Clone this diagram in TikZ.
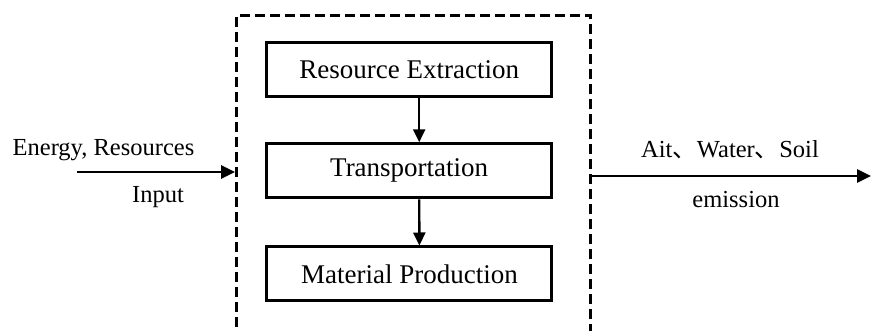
\documentclass[tikz,border=0pt]{standalone}
\usepackage{fontspec}
\setmainfont{Liberation Serif}
\newfontfamily\cjk{Noto Sans CJK SC}
\usetikzlibrary{arrows.meta,calc}
\begin{document}
\begin{tikzpicture}[x=1pt,y=-1pt,
  stage/.style={draw, line width=3pt, minimum width=285pt, minimum height=54pt,
    inner sep=0pt, font=\fontsize{27}{30}\selectfont},
  flow/.style={line width=2.4pt, -{Triangle[length=13pt,width=12pt]}},
  sideflow/.style={line width=2.8pt, -{Triangle[length=14pt,width=13pt]}},
  lbl/.style={font=\fontsize{24.5}{28}\selectfont, inner sep=0pt},
  sysframe/.style={draw, line width=3pt, dash pattern=on 10pt off 5pt}]
\useasboundingbox (0,0) rectangle (871,331);
\clip (0,0) rectangle (871,331);

% system boundary (runs off the lower edge)
\node[sysframe, minimum width=354pt, minimum height=340pt, inner sep=0pt,
      anchor=north west] (sys) at (235,14) {};

% process stages
\node[stage] (extract) at (409.2,69.7)  {Resource Extraction};
\node[stage] (transp)  at (409.2,170.8) {Transportation};
\node[stage] (prod)    at (409.4,274.0) {Material Production};

\draw[flow] ([xshift=10pt]extract.south) -- ([xshift=10pt]transp.north);
\draw[flow] ([xshift=10pt]transp.south) -- ([xshift=10pt]prod.north);

% inputs
\coordinate (inStart) at (77,172);
\draw[sideflow] (inStart) -- (inStart -| sys.west);
\node[lbl] (inTop) at (103.5,150) {Energy, Resources};
\node[lbl] (inBot) at (158,197) {Input};

% outputs
\coordinate (outEnd) at (871,176);
\draw[sideflow] (sys.east |- outEnd) -- (outEnd);
\node[lbl] (outTop) at (730,150) {Ait{\cjk 、}Water{\cjk 、}Soil};
\node[lbl] (outBot) at (736,200) {emission};
\end{tikzpicture}
\end{document}
